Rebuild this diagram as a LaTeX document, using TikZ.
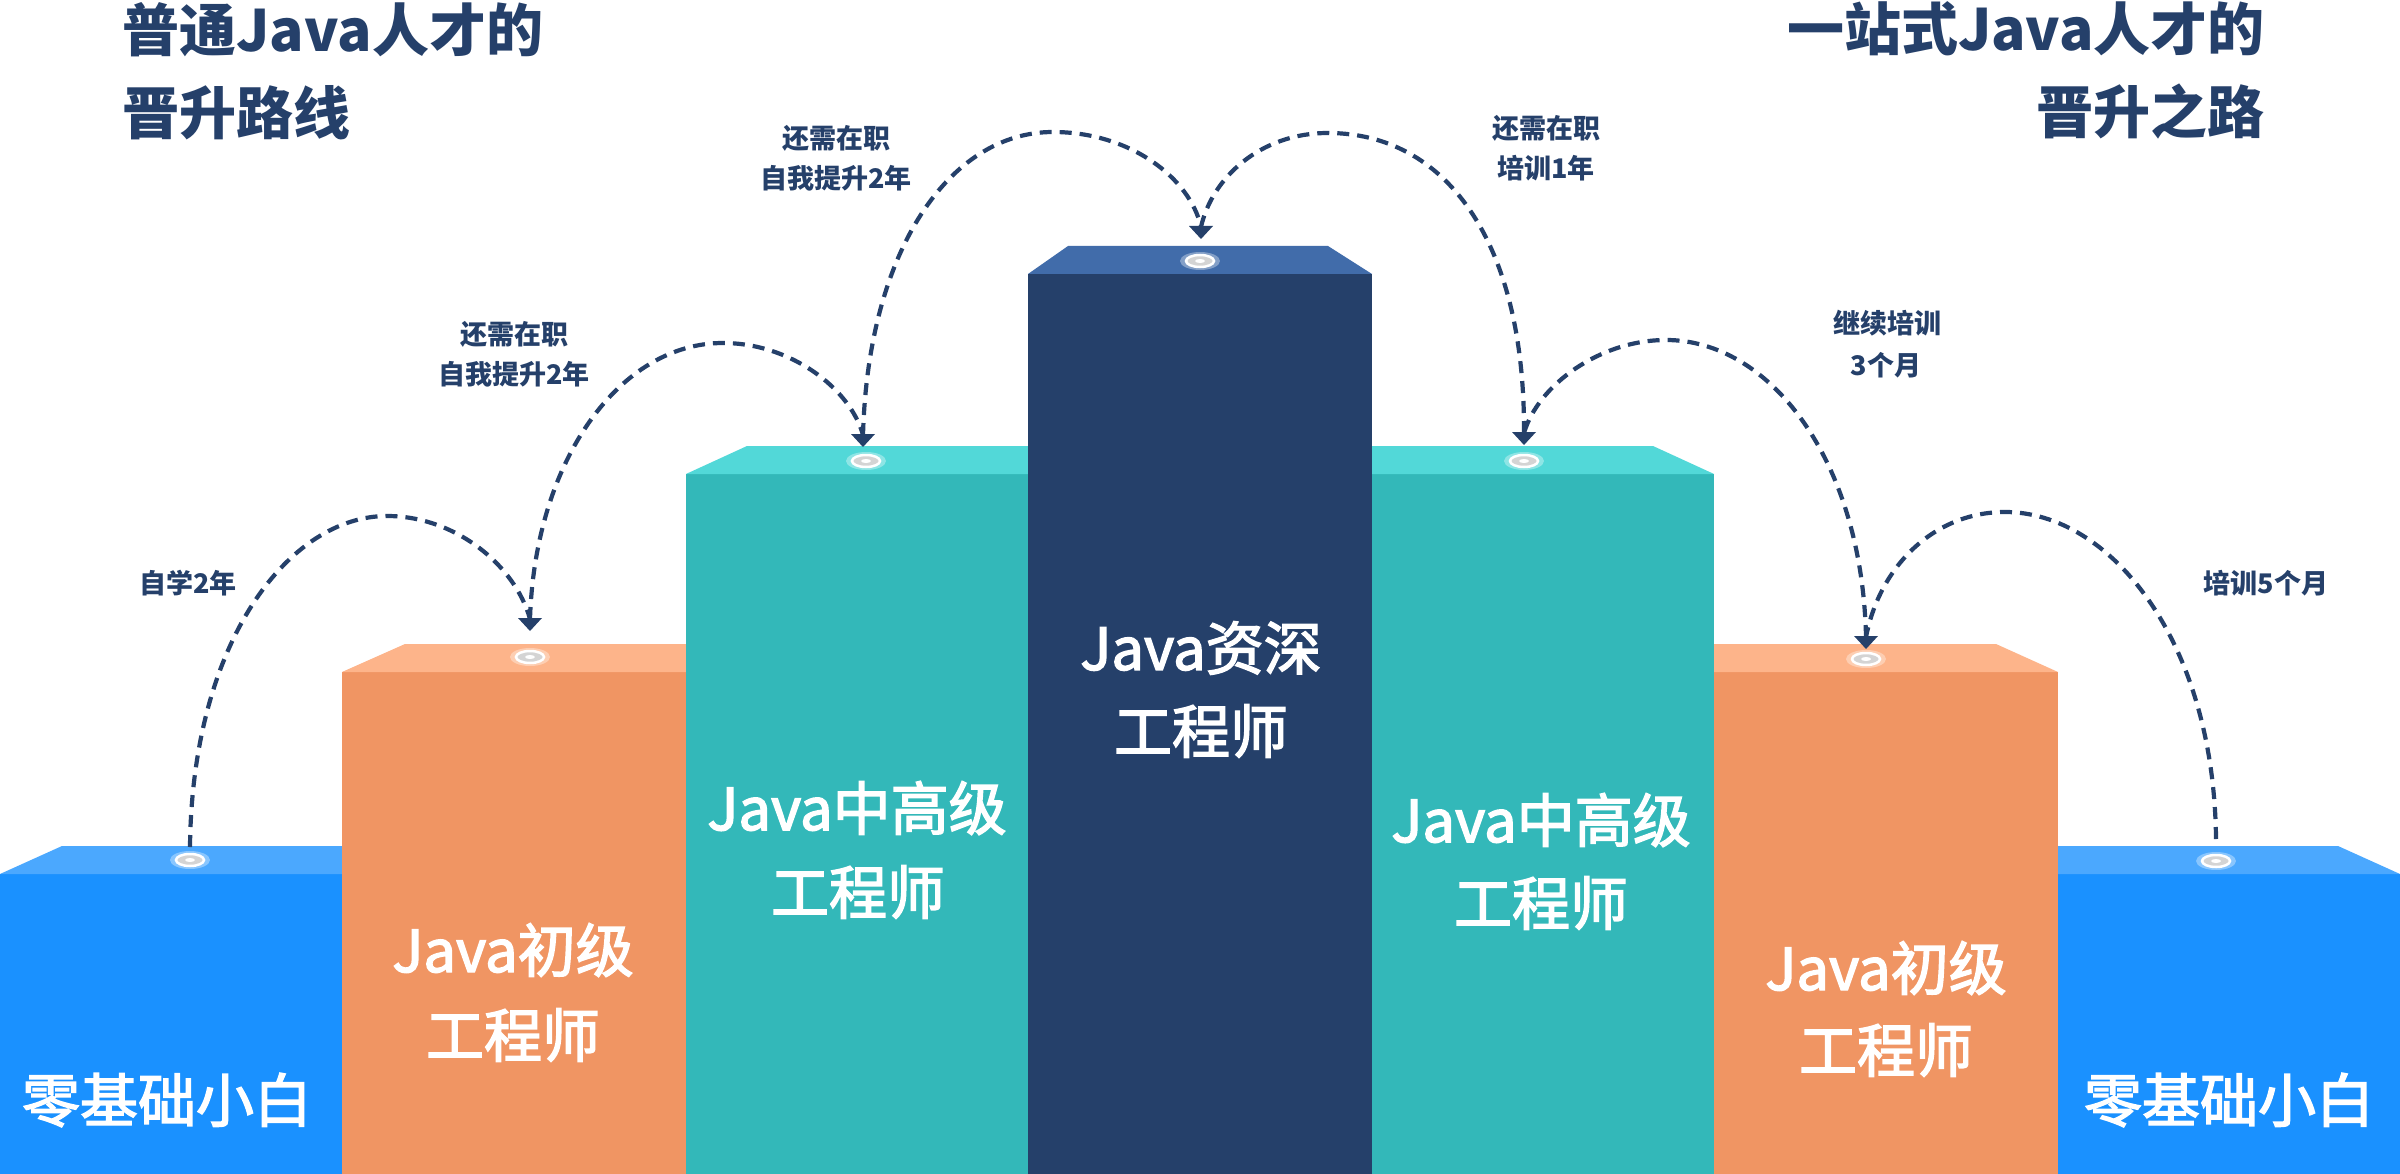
\documentclass[tikz,border=0pt]{standalone}
\usepackage{fontspec}
\newfontfamily\cjk{Noto Sans CJK SC}
\newfontfamily\cjkmed{Noto Sans CJK SC}[FakeBold=2.5]
\definecolor{navy}{HTML}{25406A}
\definecolor{bluefront}{HTML}{1A91FF}
\definecolor{bluetop}{HTML}{4BA8FE}
\definecolor{orfront}{HTML}{F09563}
\definecolor{ortop}{HTML}{FDB48A}
\definecolor{tealfront}{HTML}{33B8B9}
\definecolor{tealtop}{HTML}{52D8D8}
\definecolor{navyfront}{HTML}{25406A}
\definecolor{navytop}{HTML}{416CAA}
\definecolor{discgrey}{HTML}{D4D4D4}
\newcommand\mydisc[1]{%
  \fill[white, opacity=0.35] (#1) ellipse [x radius=20pt, y radius=9pt];
  \filldraw[fill=discgrey, draw=white, line width=2.5pt] (#1) ellipse [x radius=14pt, y radius=6pt];
  \fill[white] (#1) ellipse [x radius=5pt, y radius=2pt];
}
\newcommand\myhead[1]{%
  \fill[navy] ([shift={(-12,-13)}]#1) -- (#1) -- ([shift={(12,-13)}]#1) -- cycle;
}
\begin{document}
\begin{tikzpicture}[x=1pt, y=-1pt,
  hop/.style={draw=navy, line width=4.2pt, dash pattern=on 12pt off 8pt},
  coltext/.style={text=white, font=\cjkmed\fontsize{58pt}{58pt}\selectfont, inner sep=0pt},
  lbl/.style={text=navy, font=\cjk\bfseries\fontsize{27pt}{27pt}\selectfont, inner sep=0pt},
  ttl/.style={text=navy, font=\cjk\bfseries\fontsize{57pt}{57pt}\selectfont, inner sep=0pt}]
\useasboundingbox (0,0) rectangle (2400,1174);
\fill[white] (0,0) rectangle (2400,1174);

% ---- columns: left blue
\fill[bluefront] (0,874) rectangle (342,1174);
\fill[bluetop] (0,874) -- (62,846) -- (342,846) -- (342,874) -- cycle;
% right blue
\fill[bluefront] (2058,874) rectangle (2400,1174);
\fill[bluetop] (2058,874) -- (2058,846) -- (2338,846) -- (2400,874) -- cycle;
% left orange
\fill[orfront] (342,672) rectangle (686,1174);
\fill[ortop] (342,672) -- (405,644) -- (686,644) -- (686,672) -- cycle;
% right orange
\fill[orfront] (1714,672) rectangle (2058,1174);
\fill[ortop] (1714,672) -- (1714,644) -- (1996,644) -- (2058,672) -- cycle;
% left teal
\fill[tealfront] (686,474) rectangle (1028,1174);
\fill[tealtop] (686,474) -- (747,446) -- (1028,446) -- (1028,474) -- cycle;
% right teal
\fill[tealfront] (1372,474) rectangle (1714,1174);
\fill[tealtop] (1372,474) -- (1372,446) -- (1653,446) -- (1714,474) -- cycle;
% centre
\fill[navyfront] (1028,274) rectangle (1372,1174);
\fill[navytop] (1028,274) -- (1068,246) -- (1328,246) -- (1372,274) -- cycle;

% ---- discs
\coordinate (d1) at (190,860);
\coordinate (d2) at (530,657);
\coordinate (d3) at (866,461);
\coordinate (d4) at (1200,261);
\coordinate (d5) at (1524,461);
\coordinate (d6) at (1866,659);
\coordinate (d7) at (2216,861);
\foreach \d in {d1,d2,d3,d4,d5,d6,d7} {\mydisc{\d}}

% ---- arc end points
\coordinate (s1) at (190,847);
\coordinate (a2) at (530,631);  \coordinate (b2) at (530,619);
\coordinate (a3) at (863,447);  \coordinate (b3) at (863,435);
\coordinate (a4) at (1201,239); \coordinate (b4) at (1201,227);
\coordinate (a5) at (1524,445); \coordinate (b5) at (1524,433);
\coordinate (a6) at (1866,649); \coordinate (b6) at (1866,637);
\coordinate (s7) at (2216,839);

% ---- dashed hops
\draw[hop] (s1) .. controls (192,640) and (290,516) .. (387,516) .. controls (455,516) and (515,565) .. (b2);
\draw[hop] (b2) .. controls (535,460) and (620,343) .. (723,343) .. controls (790,343) and (850,388) .. (b3);
\draw[hop] (b3) .. controls (868,250) and (950,132) .. (1053,132) .. controls (1130,132) and (1190,178) .. (b4);
\draw[hop] (b5) .. controls (1525,240) and (1445,133) .. (1328,133) .. controls (1260,133) and (1212,178) .. (b4);
\draw[hop] (b6) .. controls (1862,460) and (1770,340) .. (1666,340) .. controls (1600,340) and (1538,385) .. (b5);
\draw[hop] (s7) .. controls (2214,640) and (2110,512) .. (2005,512) .. controls (1935,512) and (1880,565) .. (b6);
\foreach \a in {a2,a3,a4,a5,a6} {\myhead{\a}}

% ---- titles
\node[ttl, anchor=west] (tl1) at (122,30) {普通Java人才的};
\node[ttl, anchor=west] (tl2) at (122,113) {晋升路线};
\node[ttl, anchor=east] (tr1) at (2265,29) {一站式Java人才的};
\node[ttl, anchor=east] (tr2) at (2265,112) {晋升之路};

% ---- hop labels
\node[lbl] (l1) at (188,583) {自学2年};
\node[lbl] (l2a) at (514,334) {还需在职};
\node[lbl] (l2b) at (514,374) {自我提升2年};
\node[lbl] (l3a) at (836,138) {还需在职};
\node[lbl] (l3b) at (836,178) {自我提升2年};
\node[lbl] (l4a) at (1546,128) {还需在职};
\node[lbl] (l4b) at (1546,168) {培训1年};
\node[lbl] (l5a) at (1887,323) {继续培训};
\node[lbl] (l5b) at (1886,365) {3个月};
\node[lbl] (l6) at (2266,583) {培训5个月};

% ---- column texts
\node[coltext] (c1) at (167,1100) {零基础小白};
\node[coltext] (c2a) at (513,950) {Java初级};
\node[coltext] (c2b) at (513,1035) {工程师};
\node[coltext] (c3a) at (857,808) {Java中高级};
\node[coltext] (c3b) at (858,892) {工程师};
\node[coltext] (c4a) at (1201,648) {Java资深};
\node[coltext] (c4b) at (1201,731) {工程师};
\node[coltext] (c5a) at (1541,820) {Java中高级};
\node[coltext] (c5b) at (1541,903) {工程师};
\node[coltext] (c6a) at (1886,968) {Java初级};
\node[coltext] (c6b) at (1886,1050) {工程师};
\node[coltext] (c7) at (2229,1100) {零基础小白};
\end{tikzpicture}
\end{document}
